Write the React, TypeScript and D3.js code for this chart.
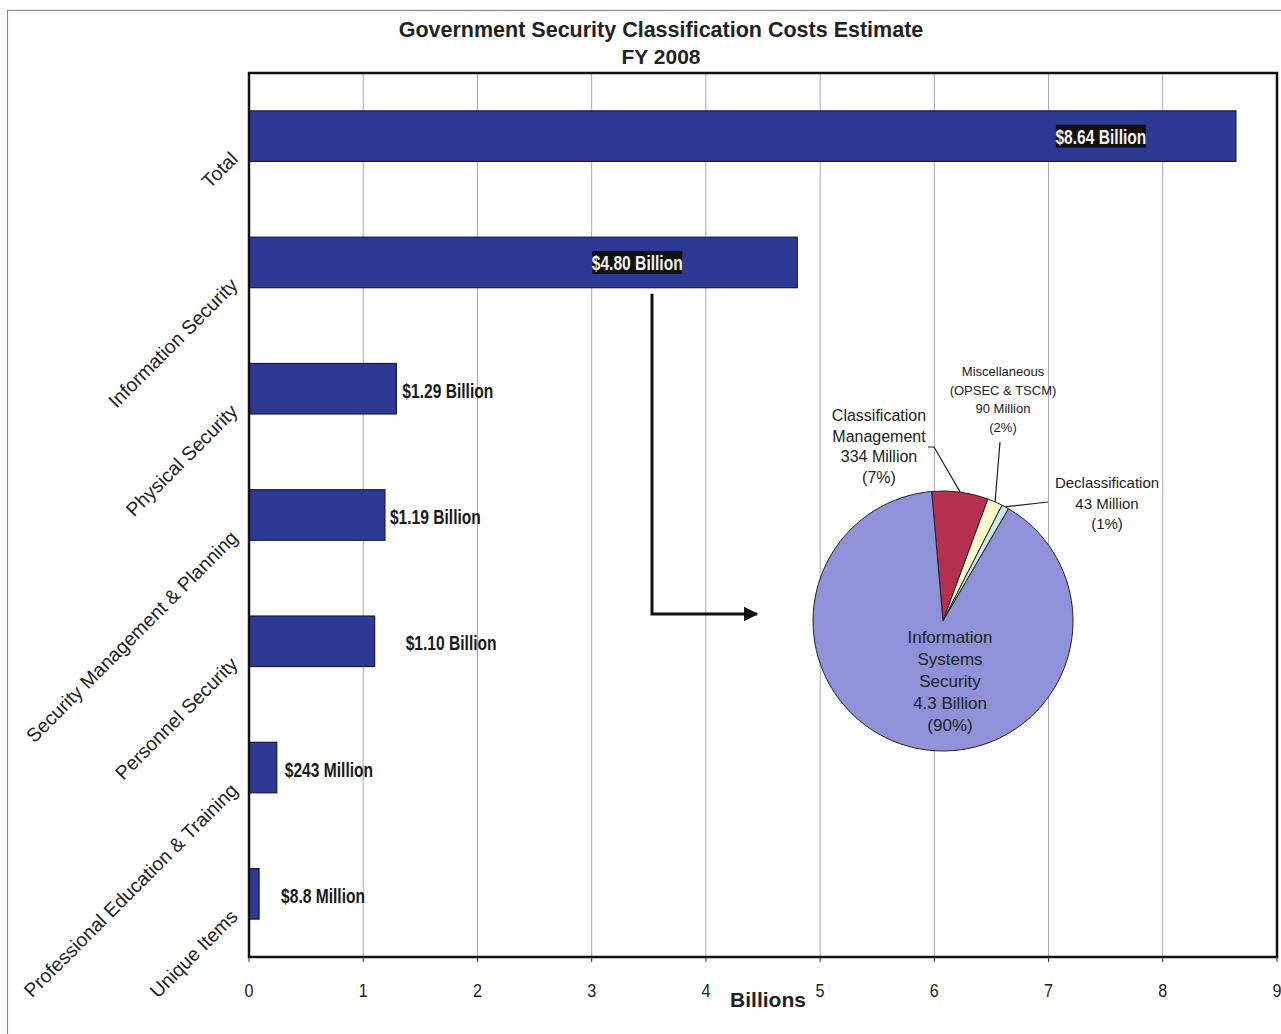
import React from "react";
import * as d3 from "d3";

const categories = [
  "Total",
  "Information Security",
  "Physical Security",
  "Security Management & Planning",
  "Personnel Security",
  "Professional Education & Training",
  "Unique Items",
];
const barValues = [8.64, 4.8, 1.29, 1.19, 1.1, 0.243, 0.088];
const barLabels = [
  "$8.64 Billion",
  "$4.80 Billion",
  "$1.29 Billion",
  "$1.19 Billion",
  "$1.10 Billion",
  "$243 Million",
  "$8.8 Million",
];
const xTicks = [0, 1, 2, 3, 4, 5, 6, 7, 8, 9];

const pieNames = [
  "Classification Management",
  "Miscellaneous (OPSEC & TSCM)",
  "Declassification",
  "Information Systems Security",
];
const pieValues = [334, 90, 43, 4300];
const pieLabelLines = [
  ["Classification", "Management", "334 Million", "(7%)"],
  ["Miscellaneous", "(OPSEC & TSCM)", "90 Million", "(2%)"],
  ["Declassification", "43 Million", "(1%)"],
  ["Information", "Systems", "Security", "4.3 Billion", "(90%)"],
];

// styling / layout
const W = 1281;
const H = 1034;
const M = { left: 249, right: 1277, top: 73, bottom: 957 };
const labelDx = [-135, -160, 6, 5, 31, 8, 22];
const labelInside = [true, true, false, false, false, false, false];
const barColor = "#2c3a94";
const pieColors = ["#b5304f", "#ffffcc", "#cce8e8", "#8f92d9"];
const pieCx = 943;
const pieCy = 621;
const pieR = 130;
const pieLabelPos = [
  { x: 879, y: 421, lh: 20.5, fs: 16 },
  { x: 1003, y: 376, lh: 18.5, fs: 13 },
  { x: 1107, y: 488, lh: 20.5, fs: 15 },
  { x: 950, y: 643, lh: 22, fs: 17 },
];
const leaderStarts = [
  [
    [928, 447],
    [934, 447],
  ],
  [
    [1000, 442],
    [1000, 442],
  ],
  [
    [1048, 502],
    [1048, 502],
  ],
];

const FONT = "'Liberation Sans', Arial, Helvetica, sans-serif";
const NARROW_SX = 0.78;

export default function App() {
  const x = d3.scaleLinear().domain([0, 9]).range([M.left, M.right]);
  const y = d3
    .scaleBand<string>()
    .domain(categories)
    .range([M.top, M.bottom])
    .paddingInner(0.6)
    .paddingOuter(0.3);

  const startA = (-5 * Math.PI) / 180;
  const pie = d3
    .pie<number>()
    .sort(null)
    .value((d) => d)
    .startAngle(startA)
    .endAngle(startA + 2 * Math.PI);
  const arcs = pie(pieValues);
  const arcGen = d3.arc<d3.PieArcDatum<number>>().innerRadius(0).outerRadius(pieR);

  const edgePoint = (a: d3.PieArcDatum<number>) => {
    const m = (a.startAngle + a.endAngle) / 2;
    return [pieCx + pieR * Math.sin(m), pieCy - pieR * Math.cos(m)];
  };

  const infoBand = y(categories[1])! + y.bandwidth();
  const arrowX = 652;
  const arrowY = 614;

  return (
    <svg
      width={W}
      height={H}
      viewBox={`0 0 ${W} ${H}`}
      style={{ display: "block", position: "absolute", left: 0, top: 0, background: "#fdfdfd" }}
    >
      <defs>
        <marker id="ah" viewBox="0 0 10 10" refX="9" refY="5" markerWidth="5" markerHeight="5" orient="auto">
          <path d="M0,0 L10,5 L0,10 z" fill="#111" />
        </marker>
      </defs>
      <rect x={0} y={0} width={W} height={H} fill="#fdfdfd" />
      <rect x={7.5} y={10.5} width={W + 20} height={H + 20} fill="#fff" stroke="#8a8a8a" strokeWidth={1.2} />

      {/* title */}
      <text x={661} y={37} textAnchor="middle" fontFamily={FONT} fontWeight="bold" fontSize={21.5} fill="#222">
        Government Security Classification Costs Estimate
      </text>
      <text x={661} y={64} textAnchor="middle" fontFamily={FONT} fontWeight="bold" fontSize={21} fill="#222">
        FY 2008
      </text>

      {/* plot area */}
      <rect x={M.left} y={M.top} width={M.right - M.left} height={M.bottom - M.top} fill="#fff" />
      {xTicks.slice(1, -1).map((t) => (
        <line key={"g" + t} x1={x(t)} x2={x(t)} y1={M.top} y2={M.bottom} stroke="#a8a8a8" strokeWidth={1} />
      ))}

      {/* bars */}
      {categories.map((c, i) => (
        <rect
          key={c}
          x={x(0)}
          y={y(c)}
          width={x(barValues[i]) - x(0)}
          height={y.bandwidth()}
          fill={barColor}
          stroke="#15184a"
          strokeWidth={1.2}
        />
      ))}

      {/* arrow */}
      <path
        d={`M${arrowX},${infoBand + 6} L${arrowX},${arrowY} L${757},${arrowY}`}
        fill="none"
        stroke="#111"
        strokeWidth={3}
        markerEnd="url(#ah)"
      />

      {/* plot border */}
      <rect
        x={M.left}
        y={M.top}
        width={M.right - M.left}
        height={M.bottom - M.top}
        fill="none"
        stroke="#111"
        strokeWidth={2.5}
      />

      {/* bar labels */}
      {categories.map((c, i) => {
        const cy = y(c)! + y.bandwidth() / 2;
        const ex = x(barValues[i]) + labelDx[i];
        if (labelInside[i]) {
          return (
            <g key={"l" + c}>
              <rect x={ex - 45} y={cy - 11.5} width={90} height={23} fill="#111" />
              <text
                transform={`translate(${ex},${cy + 7.5}) scale(${NARROW_SX},1)`}
                textAnchor="middle"
                fontFamily={FONT}
                fontWeight="bold"
                fontSize={20}
                fill="#f2f2f2"
              >
                {barLabels[i]}
              </text>
            </g>
          );
        }
        return (
          <text
            key={"l" + c}
            transform={`translate(${ex},${cy + 9}) scale(${NARROW_SX},1)`}
            fontFamily={FONT}
            fontWeight="bold"
            fontSize={20}
            fill="#1a1a1a"
          >
            {barLabels[i]}
          </text>
        );
      })}

      {/* category labels */}
      {categories.map((c) => {
        const ax = 239;
        const ay = y(c)! + y.bandwidth() / 2 + 24;
        return (
          <text
            key={"c" + c}
            x={ax}
            y={ay}
            transform={`rotate(-45 ${ax} ${ay})`}
            textAnchor="end"
            fontFamily={FONT}
            fontSize={19.5}
            fill="#222"
          >
            {c}
          </text>
        );
      })}

      {/* x axis */}
      {xTicks.map((t) => (
        <g key={"t" + t}>
          <line x1={x(t)} x2={x(t)} y1={M.bottom} y2={M.bottom + 5} stroke="#333" strokeWidth={1} />
          <text
            transform={`translate(${x(t)},997) scale(0.85,1)`}
            textAnchor="middle"
            fontFamily={FONT}
            fontSize={19}
            fill="#222"
          >
            {t}
          </text>
        </g>
      ))}
      <text x={768} y={1007} textAnchor="middle" fontFamily={FONT} fontWeight="bold" fontSize={21} fill="#222">
        Billions
      </text>

      {/* pie */}
      <g transform={`translate(${pieCx},${pieCy})`}>
        {arcs.map((a, i) => (
          <path key={pieNames[i]} d={arcGen(a) || ""} fill={pieColors[i]} stroke="#222" strokeWidth={1} />
        ))}
      </g>

      {/* leader lines */}
      {leaderStarts.map((pts, i) => {
        const e = edgePoint(arcs[i]);
        const d = `M${pts[0][0]},${pts[0][1]} L${pts[1][0]},${pts[1][1]} L${e[0]},${e[1]}`;
        return <path key={"ld" + i} d={d} fill="none" stroke="#222" strokeWidth={1.2} />;
      })}

      {/* pie labels */}
      {pieLabelLines.map((lines, i) => (
        <text
          key={"pl" + i}
          textAnchor="middle"
          fontFamily={FONT}
          fontSize={pieLabelPos[i].fs}
          fill="#222"
        >
          {lines.map((ln, j) => (
            <tspan key={j} x={pieLabelPos[i].x} y={pieLabelPos[i].y + j * pieLabelPos[i].lh}>
              {ln}
            </tspan>
          ))}
        </text>
      ))}
    </svg>
  );
}
